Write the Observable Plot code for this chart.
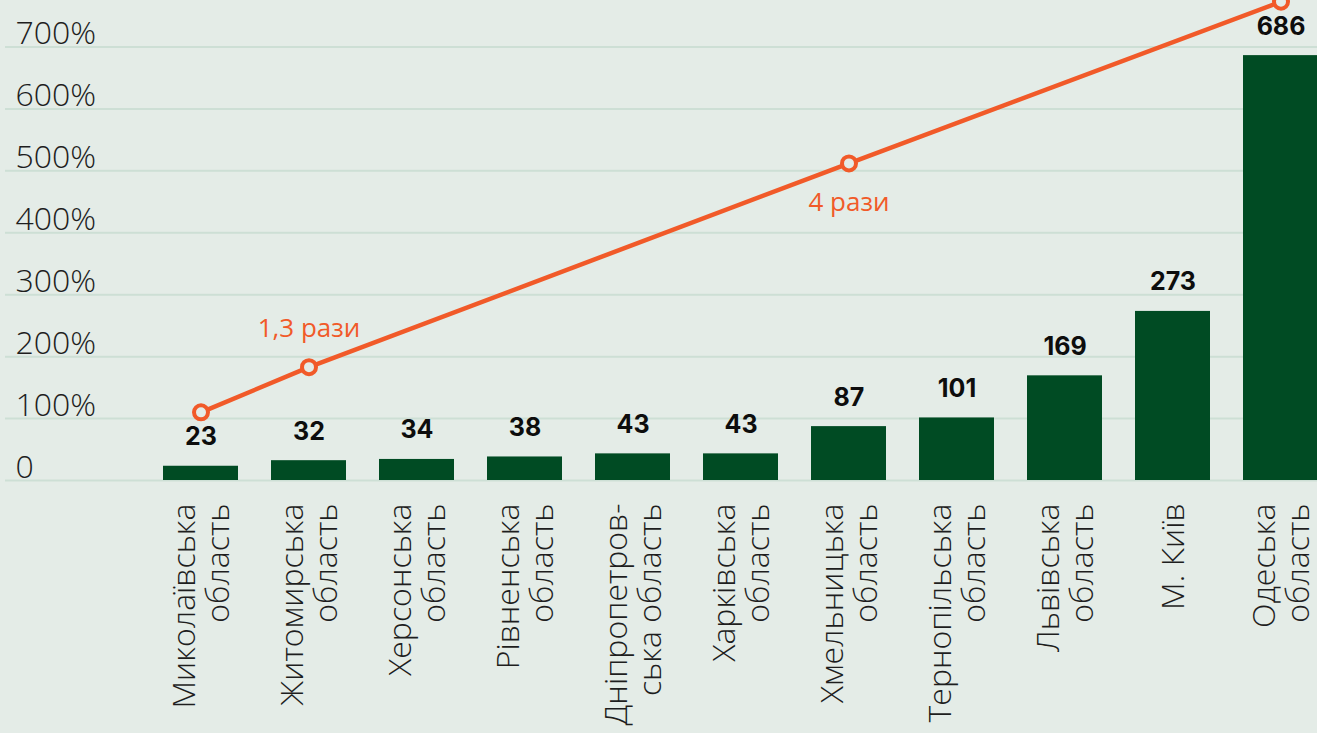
<!DOCTYPE html>
<html>
<head>
<meta charset="utf-8">
<script src="https://cdn.jsdelivr.net/npm/d3@7"></script>
<script src="https://cdn.jsdelivr.net/npm/@observablehq/plot@0.6"></script>
<style>
  html, body { margin: 0; padding: 0; background: #e4ece7; overflow: hidden; }
</style>
</head>
<body>
<div id="chart"></div>
<script>
const categories = [
  "Миколаївська\nобласть",
  "Житомирська\nобласть",
  "Херсонська\nобласть",
  "Рівненська\nобласть",
  "Дніпропетров-\nська область",
  "Харківська\nобласть",
  "Хмельницька\nобласть",
  "Тернопільська\nобласть",
  "Львівська\nобласть",
  "М. Київ",
  "Одеська\nобласть"
];
const values = [23, 32, 34, 38, 43, 43, 87, 101, 169, 273, 686];

const lineCategories = [categories[0], categories[1], categories[6], categories[10]];
const lineValues = [110, 183, 512, 773];

const annoAboveLabel = ["1,3 рази"];
const annoAboveCategory = [categories[1]];
const annoAboveValue = [183];
const annoBelowLabel = ["4 рази"];
const annoBelowCategory = [categories[6]];
const annoBelowValue = [512];

const yTicks = [0, 100, 200, 300, 400, 500, 600, 700];
const yTickLabels = ["0", "100%", "200%", "300%", "400%", "500%", "600%", "700%"];

const bars = categories.map((c, i) => ({cat: c, value: values[i]}));
const linePts = lineCategories.map((c, i) => ({cat: c, value: lineValues[i]}));
const above = annoAboveLabel.map((l, i) => ({label: l, cat: annoAboveCategory[i], value: annoAboveValue[i]}));
const below = annoBelowLabel.map((l, i) => ({label: l, cat: annoBelowCategory[i], value: annoBelowValue[i]}));

const bg = "#e4ece7";
const green = "#004b23";
const orange = "#f15a29";
const lightFont = "'Open Sans', sans-serif";
const boldFont = "Inter, sans-serif";

const chart = Plot.plot({
  width: 1317,
  height: 733,
  marginLeft: 5,
  marginRight: 0,
  marginTop: 0,
  marginBottom: 253,
  style: {background: bg, fontFamily: lightFont, overflow: "hidden"},
  x: {domain: categories, range: [146.5, 1334.5], paddingInner: 0.305, paddingOuter: 0.1525, align: 0.5, axis: null},
  y: {domain: [0, 775], axis: null},
  marks: [
    Plot.ruleY(yTicks, {stroke: "#cddfd5", strokeWidth: 2}),
    Plot.text(yTicks, {
      y: d => d, text: (d, i) => yTickLabels[i],
      frameAnchor: "left", textAnchor: "start", lineAnchor: "bottom",
      dx: 10, dy: -3, fontSize: 32, fontWeight: 300, fill: "#1e1e1e"
    }),
    Plot.barY(bars, {x: "cat", y: "value", fill: green}),
    Plot.text(bars, {
      x: "cat", y: "value", text: d => String(d.value),
      lineAnchor: "bottom", dy: -21, fontSize: 25, fontWeight: 700, fill: "#0d0d0d",
      fontFamily: boldFont
    }),
    Plot.line(linePts, {x: "cat", y: "value", stroke: orange, strokeWidth: 4.5}),
    Plot.dot(linePts, {x: "cat", y: "value", r: 7, fill: bg, stroke: orange, strokeWidth: 4}),
    Plot.text(above, {
      x: "cat", y: "value", text: "label",
      lineAnchor: "bottom", dy: -30, fontSize: 26, fontWeight: 400, fill: orange
    }),
    Plot.text(below, {
      x: "cat", y: "value", text: "label",
      lineAnchor: "bottom", dy: 48, fontSize: 26, fontWeight: 400, fill: orange
    }),
    Plot.text(categories, {
      x: d => d, text: d => d,
      frameAnchor: "bottom", rotate: -90, textAnchor: "end", lineAnchor: "middle",
      dy: 23, lineHeight: 1.07, fontSize: 32, fontWeight: 300, fill: "#1e1e1e"
    })
  ]
});
document.getElementById("chart").appendChild(chart);
</script>
</body>
</html>
